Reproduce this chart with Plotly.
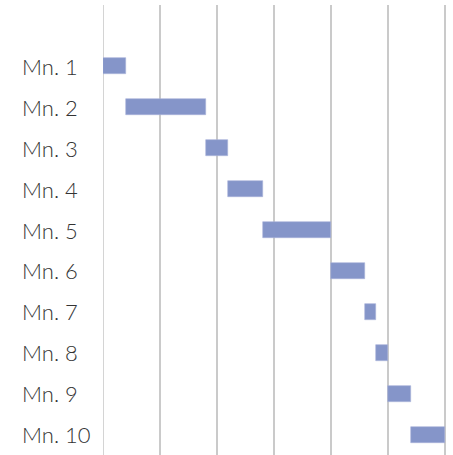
import plotly.graph_objects as go

# Milestone schedule: start and duration (weeks)
milestones = ["Mn. 1", "Mn. 2", "Mn. 3", "Mn. 4", "Mn. 5",
              "Mn. 6", "Mn. 7", "Mn. 8", "Mn. 9", "Mn. 10"]
starts = [0, 2, 9, 11, 14, 20, 23, 24, 25, 27]
durations = [2, 7, 2, 3, 6, 3, 1, 1, 2, 3]

bar_color = "#8595C9"
label_color = "#333333"
grid_color = "#CACACA"

fig = go.Figure()
fig.add_trace(go.Bar(
    y=milestones,
    x=durations,
    base=starts,
    orientation="h",
    width=0.39,
    marker=dict(color=bar_color, line=dict(color="#A9B4DA", width=0.6)),
    hoverinfo="skip",
))

# Left-aligned milestone labels in the left margin
for name in milestones:
    fig.add_annotation(
        x=-0.243, xref="paper", xanchor="left",
        y=name, yref="y", yanchor="middle",
        text=name, showarrow=False,
        font=dict(family="Lato", size=22, weight=300, color=label_color),
    )

fig.update_xaxes(
    range=[0, 30.1],
    dtick=5, tick0=0,
    showticklabels=False,
    showgrid=True, gridcolor=grid_color, gridwidth=1.6,
    zeroline=False, showline=False, ticks="",
)
fig.update_yaxes(
    type="category",
    categoryorder="array", categoryarray=milestones,
    range=[9.5, -1.5],
    showticklabels=False, showgrid=False, zeroline=False, ticks="",
)
fig.add_shape(type="line", xref="x", yref="paper", x0=0, x1=0, y0=0, y1=1,
              line=dict(color=grid_color, width=1.6), layer="below")

fig.update_layout(
    width=453, height=455,
    margin=dict(l=103, r=7, t=5, b=0),
    paper_bgcolor="white", plot_bgcolor="white",
    showlegend=False,
    bargap=0,
)

fig.write_html("out.html")
